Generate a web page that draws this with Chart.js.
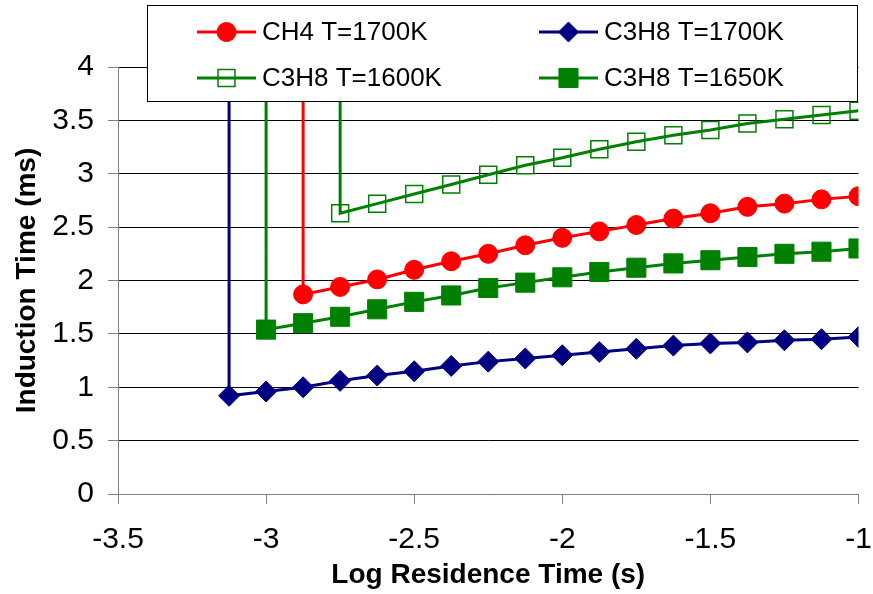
<!DOCTYPE html>
<html>
<head>
<meta charset="utf-8">
<script src="https://cdn.jsdelivr.net/npm/chart.js@4.4.0/dist/chart.umd.min.js"></script>
<style>
  html, body { margin: 0; padding: 0; background: #fff; }
  #wrap { width: 873px; height: 594px; }
</style>
</head>
<body>
<div id="wrap"><canvas id="c" width="873" height="594"></canvas></div>
<script>
// log residence time, one point every 0.125
var logTime = [-3.125, -3, -2.875, -2.75, -2.625, -2.5, -2.375, -2.25, -2.125, -2,
	-1.875, -1.75, -1.625, -1.5, -1.375, -1.25, -1.125, -1];

// induction times (ms), each list starts at its own onset point
var c3h8_1700 = [0.92, 0.96, 1.0, 1.06, 1.11, 1.15, 1.2, 1.24, 1.27, 1.3, 1.33, 1.36, 1.39, 1.41, 1.42, 1.44, 1.45, 1.47];
var c3h8_1650 = [1.54, 1.6, 1.66, 1.73, 1.8, 1.86, 1.93, 1.98, 2.03, 2.08, 2.12, 2.16, 2.19, 2.22, 2.25, 2.27, 2.3];
var ch4_1700 = [1.87, 1.94, 2.01, 2.1, 2.18, 2.25, 2.33, 2.4, 2.46, 2.52, 2.58, 2.63, 2.69, 2.72, 2.76, 2.79];
var c3h8_1600 = [2.63, 2.72, 2.81, 2.9, 2.99, 3.08, 3.15, 3.23, 3.3, 3.36, 3.41, 3.47, 3.51, 3.55, 3.59];

// index in logTime where each series begins
var startBlue = 0, start1650 = 1, startRed = 2, start1600 = 3;
// the vertical rise before the first point runs up to the top of the axis
var onsetTop = 4;

var xTicks = [-3.5, -3, -2.5, -2, -1.5, -1];
var yTicks = [0, 0.5, 1, 1.5, 2, 2.5, 3, 3.5, 4];

var RED = '#ff0000', NAVY = '#000080', GREEN = '#008000';

function series(start, vals) {
	var pts = [{x: logTime[start], y: onsetTop}];
	vals.forEach(function(v, i) { pts.push({x: logTime[start + i], y: v}); });
	return pts;
}

function hideFirst(r) {
	return function(ctx) { return ctx.dataIndex === 0 ? 0 : r; };
}

var datasets = [
	{label: 'CH4 T=1700K', data: series(startRed, ch4_1700), borderColor: RED,
		pointStyle: 'circle', pointRadius: hideFirst(9.5), pointBackgroundColor: RED,
		pointBorderColor: RED, pointBorderWidth: 1, legendFill: RED, legendR: 9.5},
	{label: 'C3H8 T=1700K', data: series(startBlue, c3h8_1700), borderColor: NAVY,
		pointStyle: 'rectRot', pointRadius: hideFirst(10.5), pointBackgroundColor: NAVY,
		pointBorderColor: NAVY, pointBorderWidth: 1, legendFill: NAVY, legendR: 10},
	{label: 'C3H8 T=1600K', data: series(start1600, c3h8_1600), borderColor: GREEN,
		pointStyle: 'rect', pointRadius: hideFirst(12), pointBackgroundColor: 'rgba(0,0,0,0)',
		pointBorderColor: GREEN, pointBorderWidth: 1.5, legendFill: 'rgba(0,0,0,0)', legendR: 12},
	{label: 'C3H8 T=1650K', data: series(start1650, c3h8_1650), borderColor: GREEN,
		pointStyle: 'rect', pointRadius: hideFirst(13.5), pointBackgroundColor: GREEN,
		pointBorderColor: GREEN, pointBorderWidth: 1, legendFill: GREEN, legendR: 13.5}
];
datasets.forEach(function(d) {
	d.borderWidth = 3;
	d.tension = 0;
	d.pointHoverRadius = d.pointRadius;
});

// legend box drawn over the plot, like the original
var boxLegend = {
	id: 'boxLegend',
	afterDraw: function(chart) {
		var ctx = chart.ctx;
		ctx.save();
		ctx.fillStyle = '#fff';
		ctx.fillRect(147, 5, 711, 97);
		ctx.strokeStyle = '#000';
		ctx.lineWidth = 1;
		ctx.strokeRect(147.5, 5.5, 710, 96);
		var cells = [[197, 32], [539, 32], [197, 78], [539, 78]];
		chart.data.datasets.forEach(function(d, i) {
			var x0 = cells[i][0], y = cells[i][1];
			ctx.strokeStyle = d.borderColor;
			ctx.lineWidth = 3;
			ctx.beginPath();
			ctx.moveTo(x0, y);
			ctx.lineTo(x0 + 59, y);
			ctx.stroke();
			ctx.fillStyle = d.legendFill;
			ctx.strokeStyle = d.pointBorderColor;
			ctx.lineWidth = d.pointBorderWidth;
			Chart.helpers.drawPoint(ctx, {pointStyle: d.pointStyle, radius: d.legendR, rotation: 0,
				borderWidth: d.pointBorderWidth}, x0 + 29.5, y);
			ctx.fillStyle = '#000';
			ctx.font = '26px "Liberation Sans", Arial, sans-serif';
			ctx.textBaseline = 'middle';
			ctx.fillText(d.label, x0 + 65, y + 1);
		});
		ctx.restore();
	}
};

Chart.defaults.font.family = '"Liberation Sans", Arial, sans-serif';
Chart.defaults.color = '#000';

function plainLabel(v) { return String(v); }

new Chart(document.getElementById('c'), {
	type: 'line',
	data: {datasets: datasets},
	options: {
		responsive: false,
		animation: false,
		events: [],
		layout: {padding: {left: 0, right: 14, top: 67, bottom: 0}},
		plugins: {legend: {display: false}, tooltip: {enabled: false}},
		scales: {
			x: {
				type: 'linear', min: -3.5, max: -1,
				afterBuildTicks: function(s) { s.ticks = xTicks.map(function(v) { return {value: v}; }); },
				afterFit: function(s) { s.height = 100; s.paddingLeft = 0; s.paddingRight = 0; },
				grid: {drawOnChartArea: false, tickLength: 10, tickColor: '#808080', color: '#808080'},
				border: {color: '#808080', width: 1},
				ticks: {font: {size: 30}, padding: 18, maxRotation: 0, callback: plainLabel},
				title: {display: true, text: 'Log Residence Time (s)', font: {size: 28, weight: 'bold'},
					padding: {top: 0, bottom: 2}}
			},
			y: {
				min: 0, max: 4,
				afterBuildTicks: function(s) { s.ticks = yTicks.map(function(v) { return {value: v}; }); },
				afterFit: function(s) { s.width = 118; s.paddingTop = 0; s.paddingBottom = 0; },
				grid: {color: '#000', lineWidth: 1, tickLength: 10, tickColor: '#808080'},
				border: {color: '#808080', width: 1},
				ticks: {font: {size: 30}, padding: 14, callback: plainLabel},
				title: {display: true, text: 'Induction Time (ms)', font: {size: 28, weight: 'bold'},
					padding: {top: 10, bottom: 0}}
			}
		}
	},
	plugins: [boxLegend]
});
</script>
</body>
</html>
